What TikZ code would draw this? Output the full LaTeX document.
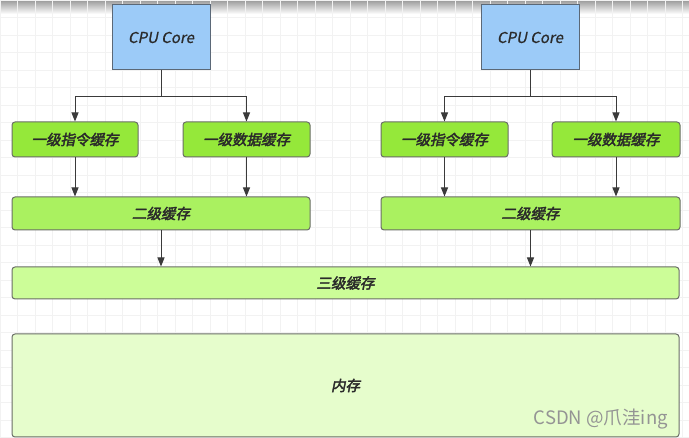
\documentclass[tikz,border=0pt]{standalone}
\usepackage{fontspec}
\usetikzlibrary{arrows.meta,calc}
\newfontfamily\cjkbf{Noto Sans CJK SC}[FakeSlant=0.2,FakeBold=2.6]
\newfontfamily\latsl{Noto Sans CJK SC}[FakeSlant=0.2,FakeBold=0.8]
\newfontfamily\cjkreg{Noto Sans CJK SC}
\definecolor{cpufill}{HTML}{9CCBF8}
\definecolor{cpuedge}{HTML}{5B6877}
\definecolor{lonefill}{HTML}{95E83A}
\definecolor{ltwofill}{HTML}{AAF160}
\definecolor{lthreefill}{HTML}{CCFD98}
\definecolor{memfill}{HTML}{E6FDCC}
\definecolor{boxedge}{HTML}{6A6E66}
\definecolor{txt}{HTML}{2A2A2A}
\definecolor{arrowc}{HTML}{3A3A3A}
\tikzset{
  box/.style={rectangle, rounded corners=3pt, draw=boxedge, line width=1pt,
    inner sep=0pt, font=\cjkbf\fontsize{14.5}{16}\selectfont, text=txt},
  cpubox/.style={box, draw=cpuedge, fill=cpufill, rounded corners=0pt,
    minimum width=98pt, minimum height=65pt, font=\latsl\fontsize{15}{17}\selectfont},
  lone/.style={box, fill=lonefill, minimum height=35pt},
  ltwo/.style={box, fill=ltwofill, minimum width=298pt, minimum height=33pt},
  lthree/.style={box, fill=lthreefill, minimum width=667pt, minimum height=32pt},
  mem/.style={box, fill=memfill, minimum width=667pt, minimum height=103pt},
  arr/.style={draw=arrowc, line width=1pt, -{Triangle[length=9pt,width=7pt]}},
  link/.style={draw=arrowc, line width=1pt}
}
\begin{document}
\begin{tikzpicture}[x=1pt,y=-1pt]
\useasboundingbox (0,0) rectangle (689,438);
\fill[white] (0,0) rectangle (689,438);
\shade[top color=black!40, bottom color=white] (0,0) rectangle (689,14);
\draw[black!5, line width=0.6pt] (0,0) grid[step=17.5pt] (689,438);

\node[cpubox] (c1) at (161,37.5) {CPU Core};
\node[cpubox] (c2) at (530,37.5) {CPU Core};

\node[lone, minimum width=126pt] (i1) at (75,139.5) {一级指令缓存};
\node[lone, minimum width=127pt] (d1) at (246.5,139.5) {一级数据缓存};
\node[lone, minimum width=127pt] (i2) at (444.5,139.5) {一级指令缓存};
\node[lone, minimum width=128pt] (d2) at (616,139.5) {一级数据缓存};

\node[ltwo] (la) at (161,213.5) {二级缓存};
\node[ltwo, minimum width=299pt] (lb) at (530.5,213.5) {二级缓存};

\node[lthree] (l3) at (345.5,283) {三级缓存};
\node[mem] (m) at (345.5,385.5) {内存};

\coordinate (b1) at ($(c1.south)+(0,26)$);
\coordinate (b2) at ($(c2.south)+(0,26)$);
\draw[link] (c1.south) -- (b1);
\draw[link] (c2.south) -- (b2);
\draw[arr] (b1) -| (i1.north);
\draw[arr] (b1) -| (d1.north);
\draw[arr] (b2) -| (i2.north);
\draw[arr] (b2) -| (d2.north);

\draw[arr] (i1.south) -- (i1.south |- la.north);
\draw[arr] (d1.south) -- (d1.south |- la.north);
\draw[arr] (i2.south) -- (i2.south |- lb.north);
\draw[arr] (d2.south) -- (d2.south |- lb.north);

\draw[arr] (la.south) -- (la.south |- l3.north);
\draw[arr] (lb.south) -- (lb.south |- l3.north);

\node[anchor=base east, inner sep=0pt, text=black!42,
  font=\cjkreg\fontsize{18.5}{20}\selectfont] (wm) at (668,425) {CSDN @爪洼ing};
\end{tikzpicture}
\end{document}
